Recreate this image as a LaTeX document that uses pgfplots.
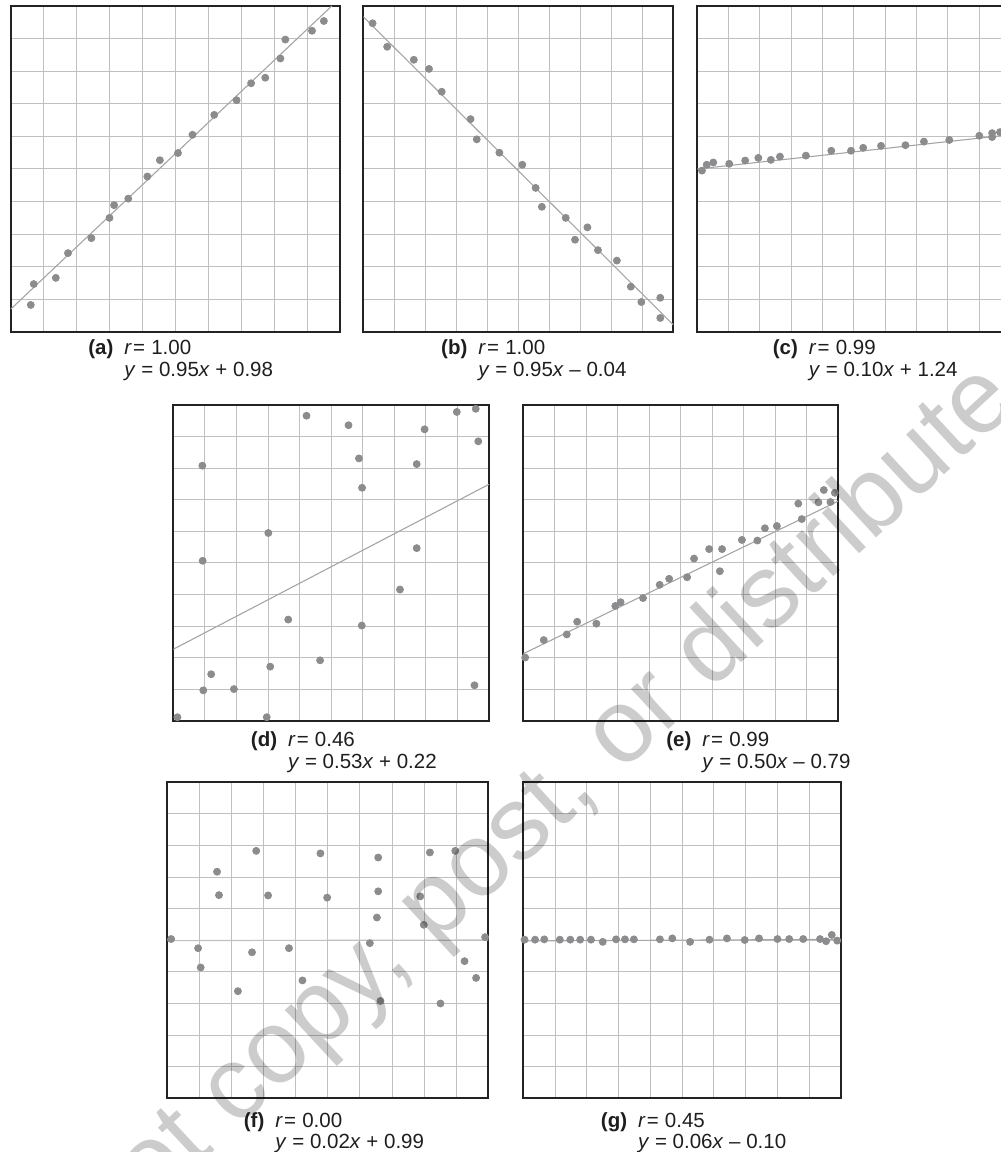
\documentclass[border=0pt]{standalone}
\usepackage{pgfplots}
\pgfplotsset{compat=1.18}
\usepackage{fontspec}
\setmainfont{Liberation Sans}
\definecolor{gridc}{RGB}{192,192,192}
\definecolor{framec}{RGB}{35,35,35}
\definecolor{dotc}{RGB}{140,140,143}
\definecolor{linec}{RGB}{165,165,165}
\pgfplotsset{
  panel/.style={scale only axis, anchor=south west,
    xmin=0,xmax=10,ymin=0,ymax=10,
    xtick={1,2,...,9}, ytick={1,2,...,9},
    xticklabels={}, yticklabels={},
    tick style={draw=none},
    grid=major, major grid style={line width=0.5pt, draw=gridc},
    axis line style={line width=1pt, draw=framec}},
  dots/.style={only marks, mark=*, color=dotc, mark size=1.75pt},
  fit/.style={no marks, draw=linec, line width=0.55pt}
}
\newcommand{\pcap}[6]{%
  \node[anchor=base west, inner sep=0pt, font=\fontsize{10.25}{12}\selectfont, text={rgb,255:red,30;green,30;blue,30}] at (#1,#2)
    {\llap{\textbf{(#4)}\hspace{5.5pt}}\textit{r}\hspace{0.06em}=\hspace{0.3em}#5};
  \node[anchor=base west, inner sep=0pt, font=\fontsize{10.25}{12}\selectfont, text={rgb,255:red,30;green,30;blue,30}] at (#1,#3) {#6};}
\begin{document}
\begin{tikzpicture}
\useasboundingbox (0,0) rectangle (500.5pt,576pt);
\clip (0,0) rectangle (500.5pt,576pt);

% (a)
\begin{axis}[panel, at={(5.35pt,410pt)}, width=164.65pt, height=163pt]
\addplot[fit] coordinates {(0,0.70) (9.75,10)};
\addplot[dots] coordinates {
(0.61,0.83) (0.70,1.47) (1.37,1.66) (1.74,2.42) (2.45,2.88) (3.00,3.50)
(3.14,3.89) (3.57,4.09) (4.15,4.77) (4.53,5.27) (5.08,5.49) (5.52,6.05)
(6.18,6.66) (6.86,7.11) (7.30,7.63) (7.73,7.80) (8.19,8.39) (8.34,8.97)
(9.15,9.24) (9.51,9.54)};
\end{axis}

% (b)
\begin{axis}[panel, at={(181.65pt,410pt)}, width=155pt, height=163pt]
\addplot[fit] coordinates {(0,9.67) (10,0.22)};
\addplot[dots] coordinates {
(0.30,9.47) (0.77,8.75) (1.63,8.35) (2.12,8.07) (2.53,7.37) (3.46,6.53)
(3.66,5.91) (4.39,5.50) (5.13,5.13) (5.56,4.42) (5.76,3.84) (6.53,3.50)
(6.83,2.83) (7.23,3.21) (7.57,2.51) (8.18,2.19) (8.63,1.39) (8.97,0.92)
(9.58,1.05) (9.58,0.43)};
\end{axis}

% (c)
\begin{axis}[panel, at={(348.65pt,410pt)}, width=156.5pt, height=163pt]
\addplot[fit] coordinates {(0,5.00) (10,6.05)};
\addplot[dots] coordinates {
(0.15,4.95) (0.30,5.13) (0.51,5.20) (1.02,5.16) (1.53,5.26) (1.95,5.34)
(2.35,5.28) (2.64,5.38) (3.47,5.41) (4.28,5.56) (4.91,5.56) (5.30,5.65)
(5.87,5.71) (6.65,5.73) (7.24,5.84) (8.05,5.89) (9.01,6.02) (9.42,6.10)
(9.42,5.98) (9.67,6.13)};
\end{axis}

% (d)
\begin{axis}[panel, at={(86.65pt,215.5pt)}, width=157.85pt, height=158pt]
\addplot[fit] coordinates {(0,2.27) (10,7.49)};
\addplot[dots] coordinates {
(0.13,0.12) (0.92,8.08) (0.93,5.07) (0.95,0.97) (1.20,1.48) (1.92,1.01)
(2.96,0.12) (3.01,5.95) (3.07,1.72) (3.64,3.21) (4.22,9.66) (4.65,1.92)
(5.55,9.36) (5.88,8.31) (5.98,7.38) (5.97,3.02) (7.18,4.16) (7.71,8.13)
(7.71,5.47) (7.96,9.23) (8.98,9.78) (9.58,9.88) (9.66,8.85) (9.54,1.13)};
\end{axis}

% (e)
\begin{axis}[panel, at={(261.65pt,215.5pt)}, width=157.5pt, height=158pt]
\addplot[fit] coordinates {(0,2.13) (10,6.96)};
\addplot[dots] coordinates {
(0.06,2.01) (0.65,2.56) (1.38,2.74) (1.71,3.14) (2.32,3.08) (2.92,3.64)
(3.09,3.76) (3.80,3.89) (4.33,4.31) (4.63,4.50) (5.20,4.55) (5.42,5.14)
(5.90,5.44) (6.31,5.44) (6.24,4.74) (6.94,5.73) (7.43,5.71) (7.67,6.10)
(8.05,6.17) (8.73,6.88) (8.84,6.39) (9.37,6.92) (9.54,7.31) (9.75,6.93)
(9.89,7.22)};
\end{axis}

% (f)
\begin{axis}[panel, at={(83.65pt,26.85pt)}, width=160.5pt, height=158pt]
\addplot[fit, draw=gridc] coordinates {(0,4.99) (10,5.01)};
\addplot[dots] coordinates {
(0.12,5.04) (0.96,4.75) (1.04,4.14) (1.55,7.17) (1.61,6.43) (2.20,3.39)
(2.64,4.62) (2.77,7.83) (3.14,6.42) (3.79,4.75) (4.21,3.73) (4.77,7.75)
(4.98,6.35) (6.31,4.91) (6.53,5.72) (6.57,6.55) (6.57,7.62) (6.64,3.08)
(7.88,6.39) (7.99,5.49) (8.18,7.78) (8.51,3.00) (8.97,7.83) (9.26,4.34)
(9.62,3.81) (9.90,5.10)};
\end{axis}

% (g)
\begin{axis}[panel, at={(261.65pt,26.85pt)}, width=158.85pt, height=158pt]
\addplot[fit] coordinates {(0,4.98) (10,5.03)};
\addplot[dots] coordinates {
(0.04,5.02) (0.37,5.02) (0.66,5.03) (1.15,5.02) (1.48,5.02) (1.79,5.02)
(2.13,5.02) (2.50,4.95) (2.92,5.03) (3.20,5.03) (3.48,5.03) (4.30,5.03)
(4.69,5.06) (5.25,4.95) (5.86,5.02) (6.41,5.06) (6.97,5.01) (7.42,5.06)
(8.00,5.04) (8.37,5.04) (8.81,5.04) (9.34,5.04) (9.53,4.97) (9.71,5.17)
(9.88,4.99)};
\end{axis}

% captions
\pcap{62pt}{398.5pt}{387.5pt}{a}{1.00}{\textit{y} = 0.95\textit{x} + 0.98}
\pcap{239pt}{398.5pt}{387.5pt}{b}{1.00}{\textit{y} = 0.95\textit{x} – 0.04}
\pcap{404.25pt}{398.5pt}{387.5pt}{c}{0.99}{\textit{y} = 0.10\textit{x} + 1.24}
\pcap{143.85pt}{202.5pt}{191.5pt}{d}{0.46}{\textit{y} = 0.53\textit{x} + 0.22}
\pcap{351pt}{202.5pt}{191.5pt}{e}{0.99}{\textit{y} = 0.50\textit{x} – 0.79}
\pcap{137.5pt}{12.5pt}{1.8pt}{f}{0.00}{\textit{y} = 0.02\textit{x} + 0.99}
\pcap{318.85pt}{12.5pt}{1.8pt}{g}{0.45}{\textit{y} = 0.06\textit{x} – 0.10}

% watermark
\node[anchor=base west, rotate=42.8, inner sep=0pt, text=black, text opacity=0.2,
  font=\fontsize{52}{52}\selectfont] at (-4.75pt,-103pt) {Do not copy, post, or distribute};
\end{tikzpicture}
\end{document}
